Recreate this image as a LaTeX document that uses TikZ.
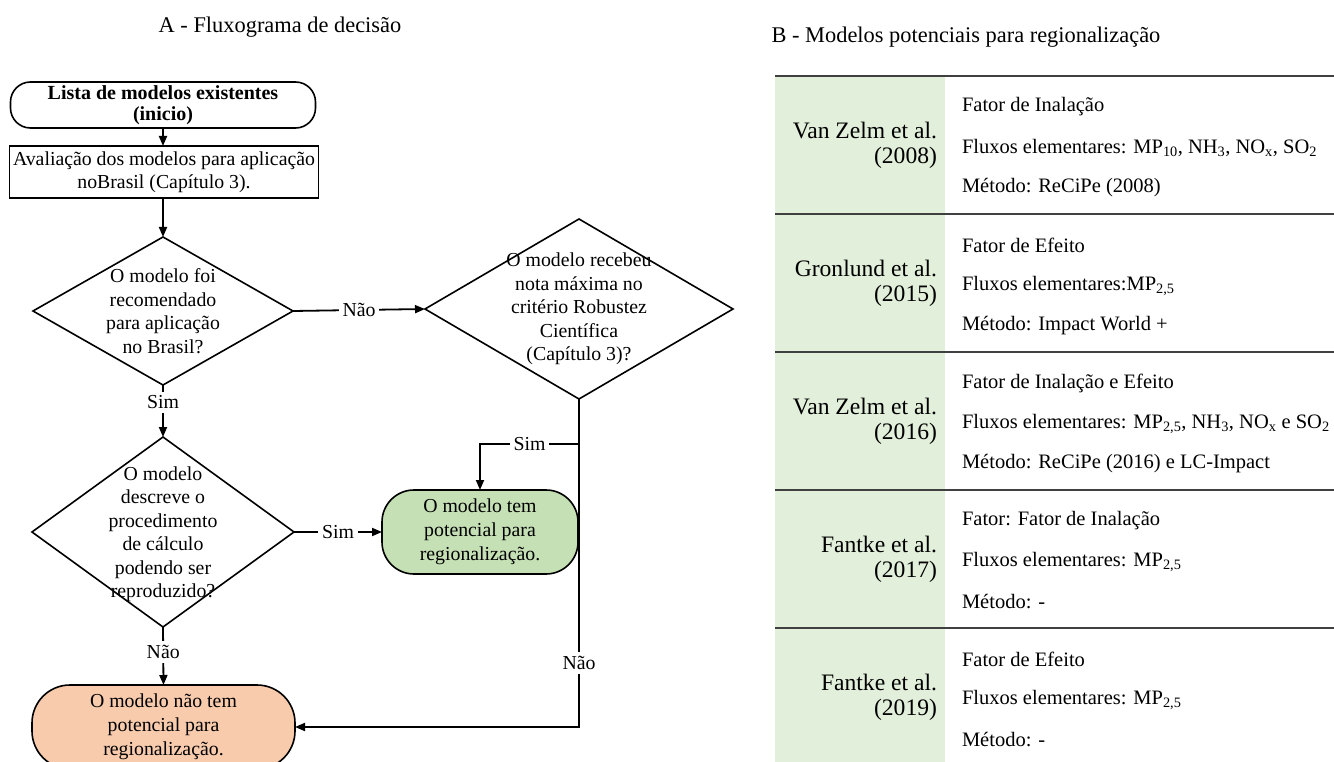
\documentclass[tikz,border=0pt]{standalone}
\usepackage{fontspec}
\setmainfont{Liberation Serif}
\usetikzlibrary{shapes.geometric,arrows.meta}
\definecolor{gnode}{HTML}{C5E0B4}
\definecolor{onode}{HTML}{F8CBAD}
\definecolor{gcol}{HTML}{E2EFDA}
\definecolor{rulec}{HTML}{404040}
\begin{document}
\begin{tikzpicture}[x=1pt,y=-1pt,
  every node/.style={inner sep=0pt, outer sep=0pt},
  ff/.style={font=\fontsize{19.8}{23.5}\selectfont, align=center},
  dia/.style={draw, diamond, line width=1.6pt},
  stad/.style={draw, line width=1.6pt, align=center},
  arr/.style={-{Triangle[length=10pt,width=8pt]}, line width=1.8pt},
  lbl/.style={fill=white, inner sep=4pt, font=\fontsize{19.8}{23.5}\selectfont},
  ttl/.style={font=\fontsize{22.4}{26}\selectfont},
  auth/.style={anchor=east, align=right, font=\fontsize{23.6}{25}\selectfont},
  det/.style={anchor=west, font=\fontsize{20.5}{24}\selectfont},
  rowline/.style={draw=rulec, line width=1.6pt}
]
\useasboundingbox (0,0) rectangle (1334,762);
\clip (0,0) rectangle (1334,762);

% titles
\node[ttl] (tA) at (280,27) {A - Fluxograma de decisão};
\node[ttl] (tB) at (966,37) {B - Modelos potenciais para regionalização};

% flowchart nodes
\node[stad, rounded corners=20pt, minimum width=305pt, minimum height=46pt,
      font=\bfseries\fontsize{20}{21}\selectfont] (start) at (163,105)
      {Lista de modelos existentes\\(inicio)};
\node[draw, line width=1.6pt, minimum width=309pt, minimum height=52pt, ff] (eval) at (164,172)
      {Avaliação dos modelos para aplicação\\noBrasil (Capítulo 3).};
\node[dia, minimum width=260pt, minimum height=148pt] (d1) at (163,311) {};
\node[ff] (d1t) at (d1) {O modelo foi\\recomendado\\para aplicação\\no Brasil?};
\node[dia, minimum width=308pt, minimum height=180pt] (d2) at (579,309) {};
\node[ff] (d2t) at (d2) {O modelo recebeu\\nota máxima no\\critério Robustez\\Científica\\(Capítulo 3)?};
\node[dia, minimum width=262pt, minimum height=190pt] (d3) at (163,532) {};
\node[ff] (d3t) at (163,534) {O modelo\\descreve o\\procedimento\\de cálculo\\podendo ser\\reproduzido?};
\node[stad, fill=gnode, rounded corners=32pt, minimum width=196pt, minimum height=84pt,
      font=\fontsize{19.8}{24}\selectfont] (yes) at (480,532)
      {O modelo tem\\potencial para\\regionalização.};
\node[stad, fill=onode, rounded corners=38pt, minimum width=263pt, minimum height=84pt,
      font=\fontsize{19.8}{24}\selectfont] (no) at (163.5,727)
      {O modelo não tem\\potencial para\\regionalização.};

% connectors
\draw[arr] (start.south) -- (start.south |- eval.north);
\draw[arr] (eval.south -| d1.north) -- (d1.north);
\draw[arr] (d1.east) -- node[lbl]{Não} (d2.west);
\draw[arr] (d1.south) -- node[lbl, pos=0.33]{Sim} (d3.north);
\draw[arr] (d3.east) -- node[lbl]{Sim} (yes.west);
\draw[arr] (d3.south) -- node[lbl, pos=0.43]{Não} (no.north);
\draw[arr] (d2.south) -- node[lbl, pos=0.805]{Não} (d2.south |- no.east) -- (no.east);
\coordinate (j) at (579,444);
\draw[arr] (j) -- node[lbl]{Sim} (j -| yes.north) -- (yes.north);

% table
\fill[gcol] (775,76) rectangle (945,762);
\foreach \yy in {76,214,352,490,628}{
  \draw[rowline] (775,\yy) -- (1334,\yy);
}
% row 1
\node[auth] (a1) at (937,145) {Van Zelm et al.\\(2008)};
\node[det] (r1a) at (962,107) {Fator de Inalação};
\node[det] (r1b) at (962,148) {Fluxos elementares: MP\textsubscript{10}, NH\textsubscript{3}, NO\textsubscript{x}, SO\textsubscript{2}};
\node[det] (r1c) at (962,188) {Método: ReCiPe (2008)};
% row 2
\node[auth] (a2) at (937,283) {Gronlund et al.\\(2015)};
\node[det] (r2a) at (962,245) {Fator de Efeito};
\node[det] (r2b) at (962,286) {Fluxos elementares:MP\textsubscript{2,5}};
\node[det] (r2c) at (962,326) {Método: Impact World +};
% row 3
\node[auth] (a3) at (937,421) {Van Zelm et al.\\(2016)};
\node[det] (r3a) at (962,383) {Fator de Inalação e Efeito};
\node[det] (r3b) at (962,424) {Fluxos elementares: MP\textsubscript{2,5}, NH\textsubscript{3}, NO\textsubscript{x} e SO\textsubscript{2}};
\node[det] (r3c) at (962,464) {Método: ReCiPe (2016) e LC-Impact};
% row 4
\node[auth] (a4) at (937,559) {Fantke et al.\\(2017)};
\node[det] (r4a) at (962,521) {Fator: Fator de Inalação};
\node[det] (r4b) at (962,562) {Fluxos elementares: MP\textsubscript{2,5}};
\node[det] (r4c) at (962,602) {Método: -};
% row 5
\node[auth] (a5) at (937,697) {Fantke et al.\\(2019)};
\node[det] (r5a) at (962,659) {Fator de Efeito};
\node[det] (r5b) at (962,700) {Fluxos elementares: MP\textsubscript{2,5}};
\node[det] (r5c) at (962,740) {Método: -};
\end{tikzpicture}
\end{document}
